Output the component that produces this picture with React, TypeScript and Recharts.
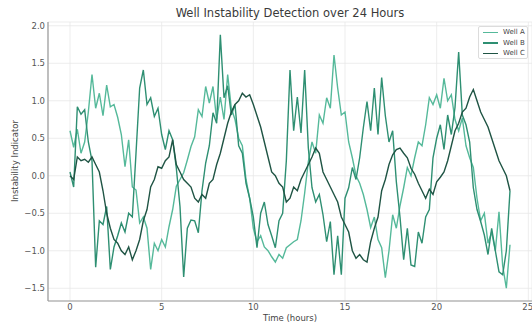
import { CartesianGrid, Line, LineChart, XAxis, YAxis } from "recharts";

// readings every 0.2 h, from 0 to 24 h
const hours = Array.from({ length: 121 }, (_, i) => Math.round(i * 2) / 10);

const wellA = [
  0.6, 0.38, 0.62, 0.3, 0.45, 0.85, 1.35, 0.9, 1.1, 0.8,
  1.21, 0.92, 0.95, 0.78, 0.55, 0.12, 0.48, -0.15, -0.19, -0.63,
  -0.55, -0.7, -1.25, -0.9, -1.0, -0.85, -0.95, -0.68, -0.45, -0.14,
  -0.05, 0.04, 0.21, 0.39, 0.52, 0.88, 0.79, 1.19, 0.97, 1.19,
  0.75, 1.05, 0.75, 1.35, 0.9, 0.75, 0.5, 0.4, -0.05, -0.3,
  -0.7, -0.88, -0.8, -0.95, -1.0, -1.08, -1.15, -1.05, -1.1, -0.96,
  -0.92, -0.88, -0.85, -0.6, -0.23, 0.19, 0.45, 0.3, 0.81, 0.7,
  1.04, 0.9, 1.61, 1.17, 0.81, 0.85, 0.45, 0.24, 0.0, -0.1,
  -0.25, -0.45, -0.69, -0.55, -0.85, -0.96, -1.36, -1.0, -0.52, -0.7,
  -0.4, -0.16, 0.11, 0.0, 0.24, 0.45, 0.4, 0.68, 1.04, 0.95,
  1.08, 0.9, 1.3, 1.0, 1.08, 0.75, 0.6, 0.77, 0.4, 0.24,
  0.11, -0.3, -0.6, -0.5, -0.9, -0.75, -1.0, -0.48, -1.2, -1.5,
  -0.92,
];

const wellB = [
  0.05, -0.15, 0.92, 0.82, 0.88, 0.45, 0.2, -1.22, -0.6, -0.65,
  -0.41, -1.25, -0.95, -0.8, -0.63, -0.75, -0.5, -0.55, 0.3, 1.17,
  1.41, 0.95, 1.04, 0.79, 0.9, 0.55, 0.35, 0.6, 0.48, 0.1,
  -0.41, -1.35, -0.7, -0.59, -0.6, -0.76, -0.2, 0.17, 0.4, 0.84,
  0.7, 1.88, 1.04, 1.2, 0.81, 0.95, 0.4, 0.3, -0.1, -0.3,
  -0.55, -0.96, -0.5, -0.35, -0.65, -0.8, -0.96, -0.6, -0.5, 0.2,
  1.41, 0.6, 1.05, 0.57, 1.41, 0.37, -0.16, -0.35, -0.25, -0.52,
  -0.88, -0.61, -1.32, -0.8, -1.32, -0.3, -0.16, 0.11, -0.05, 0.24,
  0.64, 0.99, 0.6, 1.17, 0.55, 1.31, 0.8, 0.45, 0.6, -0.08,
  -0.55, -1.12, -0.7, -1.19, -1.21, -0.75, -0.9, -0.55, -0.45, 0.24,
  0.5, 0.68, 0.35, 0.81, 0.55, 0.91, 1.65, 0.81, 0.68, 0.45,
  -0.16, -0.45, -0.61, -0.79, -1.05, -0.7, -1.0, -1.28, -1.32, -1.0,
  -0.2,
];

const wellC = [
  0.0, -0.05, 0.25, 0.2, 0.22, 0.18, 0.25, 0.15, 0.05, -0.2,
  -0.5, -0.7, -0.85, -0.9, -1.0, -1.05, -0.95, -1.12, -1.0, -0.85,
  -0.6, -0.45, -0.15, -0.05, 0.12, 0.1, 0.2, 0.25, 0.48, 0.15,
  0.05, -0.05, -0.1, -0.15, -0.3, -0.35, -0.25, -0.3, -0.1, -0.05,
  0.15, 0.3, 0.5, 0.7, 0.85, 0.95, 1.0, 1.1, 1.05, 1.08,
  0.95, 0.8, 0.65, 0.45, 0.25, 0.05, 0.0, -0.1, -0.15, -0.35,
  -0.3, -0.15, -0.2, -0.05, 0.05, 0.15, 0.25, 0.37, 0.3, 0.05,
  -0.05, -0.15, -0.25, -0.35, -0.55, -0.65, -0.75, -1.0, -1.1, -1.05,
  -1.12, -1.15, -0.88, -0.7, -0.55, -0.2, -0.05, 0.15, 0.28, 0.35,
  0.37, 0.3, 0.24, 0.1, 0.02, -0.1, -0.2, -0.3, -0.18, -0.25,
  -0.08, -0.02, 0.05, 0.2, 0.4, 0.6, 0.7, 0.85, 0.9, 1.05,
  1.15, 1.0, 0.85, 0.75, 0.65, 0.5, 0.35, 0.2, 0.1, 0.0,
  -0.2,
];

const xTicks = [0, 5, 10, 15, 20, 25];
const yTicks = [-1.5, -1, -0.5, 0, 0.5, 1, 1.5, 2];

const series = [
  { key: "wellA", name: "Well A", color: "#55b99a" },
  { key: "wellB", name: "Well B", color: "#2e8f72" },
  { key: "wellC", name: "Well C", color: "#1f5444" },
];

const data = hours.map((t, i) => ({
  t,
  wellA: wellA[i],
  wellB: wellB[i],
  wellC: wellC[i],
}));

const font = "'DejaVu Sans', sans-serif";

function formatTick(value: number): string {
  const text = Math.abs(value).toFixed(1);
  return value < 0 ? `\u2212${text}` : text;
}

function LegendBox() {
  return (
    <div
      style={{
        position: "absolute",
        left: 478,
        top: 26,
        width: 50,
        height: 33,
        boxSizing: "border-box",
        border: "1px solid #dcdcdc",
        borderRadius: 2,
        background: "rgba(255,255,255,0.85)",
        fontFamily: font,
        fontSize: 7,
        color: "#444",
      }}
    >
      {series.map((item) => (
        <div key={item.key} style={{ display: "flex", alignItems: "center", height: 10.5 }}>
          <div style={{ width: 15, height: 1.5, marginLeft: 4, marginRight: 5, background: item.color }} />
          <span style={{ whiteSpace: "nowrap" }}>{item.name}</span>
        </div>
      ))}
    </div>
  );
}

export default function App() {
  return (
    <div
      style={{
        position: "fixed",
        left: 0,
        top: 0,
        width: 532,
        height: 328,
        background: "#fff",
        overflow: "hidden",
      }}
    >
      <LineChart width={532} height={328} data={data} margin={{ top: 22, right: 0, bottom: 0, left: 0 }}>
        <CartesianGrid stroke="#e8e8e8" strokeWidth={0.8} />
        <XAxis
          dataKey="t"
          type="number"
          domain={[-1.2, 25.2]}
          ticks={xTicks}
          allowDataOverflow
          height={27}
          tickLine={false}
          tickSize={3}
          tickMargin={0}
          axisLine={{ stroke: "#9a9a9a", strokeWidth: 1.2 }}
          tick={{ fill: "#555", fontSize: 8.5, fontFamily: font }}
        />
        <YAxis
          type="number"
          domain={[-1.67, 2.05]}
          ticks={yTicks}
          allowDataOverflow
          width={48}
          tickLine={false}
          tickSize={3}
          tickMargin={0}
          tickFormatter={formatTick}
          axisLine={{ stroke: "#9a9a9a", strokeWidth: 1.2 }}
          tick={{ fill: "#555", fontSize: 8.5, fontFamily: font }}
        />
        {series.map((item) => (
          <Line
            key={item.key}
            dataKey={item.key}
            name={item.name}
            type="linear"
            stroke={item.color}
            strokeWidth={1.4}
            dot={false}
            activeDot={false}
            isAnimationActive={false}
          />
        ))}
      </LineChart>
      <div
        style={{
          position: "absolute",
          left: 48,
          top: 6,
          width: 484,
          textAlign: "center",
          fontFamily: font,
          fontSize: 11.5,
          lineHeight: "14px",
          color: "#3a3a3a",
        }}
      >
        Well Instability Detection over 24 Hours
      </div>
      <div
        style={{
          position: "absolute",
          left: 48,
          top: 312,
          width: 484,
          textAlign: "center",
          fontFamily: font,
          fontSize: 8.5,
          lineHeight: "12px",
          color: "#444",
        }}
      >
        Time (hours)
      </div>
      <div
        style={{
          position: "absolute",
          left: 15 - 80,
          top: 161 - 6,
          width: 160,
          textAlign: "center",
          fontFamily: font,
          fontSize: 8.5,
          lineHeight: "12px",
          color: "#444",
          transform: "rotate(-90deg)",
        }}
      >
        Instability Indicator
      </div>
      <LegendBox />
    </div>
  );
}
